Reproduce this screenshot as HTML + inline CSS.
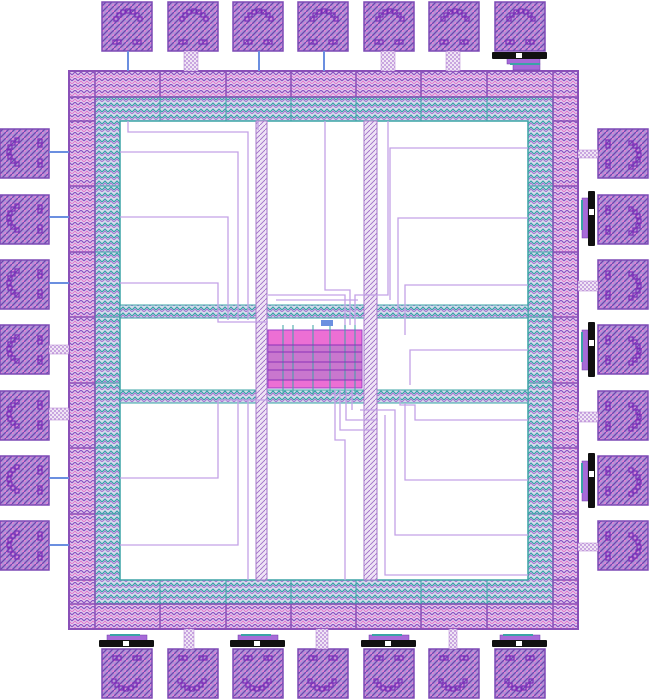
<!DOCTYPE html>
<html><head><style>html,body{margin:0;padding:0;background:#fff}svg{display:block}</style></head>
<body>
<svg width="649" height="699" viewBox="0 0 649 699" xmlns="http://www.w3.org/2000/svg">
<defs>
<pattern id="pad" width="6" height="6" patternUnits="userSpaceOnUse">
<rect width="6" height="6" fill="#ae92d6"/>
<path d="M0 6L6 0" stroke="#7043b0" stroke-width="1.3"/>
<path d="M0 2L2 0M4 6L6 4" stroke="#f07ad4" stroke-width="0.9"/>
</pattern>
<pattern id="ring" width="6" height="6" patternUnits="userSpaceOnUse">
<rect width="6" height="6" fill="#e2cdef"/>
<path d="M0 3L3 0L6 3" stroke="#8a50c0" stroke-width="1.2" fill="none"/>
<path d="M0 6L3 3L6 6" stroke="#e070c8" stroke-width="0.9" fill="none"/>
</pattern>
<pattern id="teal" width="6" height="6" patternUnits="userSpaceOnUse">
<rect width="6" height="6" fill="#d4dcec"/>
<path d="M0 4L3 1L6 4" stroke="#2f9ea4" stroke-width="1.1" fill="none"/>
<path d="M0 6L3 3L6 6" stroke="#a66ad0" stroke-width="0.9" fill="none"/>
</pattern>
<pattern id="vs" width="5" height="5" patternUnits="userSpaceOnUse">
<rect width="5" height="5" fill="#efe4f5"/>
<path d="M0 5L5 0" stroke="#a070c8" stroke-width="0.9"/>
</pattern>
<pattern id="chk" width="4" height="4" patternUnits="userSpaceOnUse">
<rect width="4" height="4" fill="#f0e6f5"/><rect width="2" height="2" fill="#c9a6e0"/><rect x="2" y="2" width="2" height="2" fill="#c9a6e0"/>
</pattern>
<g id="gl" fill="none" stroke="#7a2db8" stroke-width="1.2">
<rect x="12" y="15" width="4" height="4"/><rect x="15" y="11" width="4" height="4"/><rect x="19" y="8" width="4" height="4"/><rect x="24" y="7" width="4" height="4"/><rect x="29" y="8" width="4" height="4"/><rect x="33" y="11" width="4" height="4"/><rect x="36" y="15" width="4" height="4"/>
<rect x="11" y="38" width="4" height="4"/><rect x="15" y="38" width="4" height="4"/><rect x="31" y="38" width="4" height="4"/><rect x="35" y="38" width="4" height="4"/>
</g>
</defs>

<!-- ring -->
<rect x="69" y="71" width="509" height="558" fill="url(#ring)" stroke="#8a50b8" stroke-width="2"/>
<rect x="95" y="97" width="458" height="507" fill="url(#teal)" stroke="#3aa3a6" stroke-width="1.5"/>
<rect x="120" y="121" width="408" height="459" fill="#fff" stroke="#3aa3a6" stroke-width="1.5"/>
<rect x="95" y="97" width="458" height="507" fill="none" stroke="#8a50b8" stroke-width="1"/>
<g stroke="#8a50b8" stroke-width="1.5">
<path d="M95 71V629M553 71V629M69 97H578M69 604H578"/>
<path d="M160 71V97M226 71V97M291 71V97M356 71V97M421 71V97M487 71V97"/>
<path d="M160 604V629M226 604V629M291 604V629M356 604V629M421 604V629M487 604V629"/>
<path d="M69 121H95M69 186H95M69 252H95M69 317H95M69 383H95M69 448H95M69 514H95M69 580H95"/>
<path d="M553 121H578M553 186H578M553 252H578M553 317H578M553 383H578M553 448H578M553 514H578M553 580H578"/>
</g>
<g stroke="#3aa3a6" stroke-width="1">
<path d="M160 97V121M226 97V121M291 97V121M356 97V121M421 97V121M487 97V121"/>
<path d="M160 580V604M226 580V604M291 580V604M356 580V604M421 580V604M487 580V604"/>
<path d="M95 186H120M95 252H120M95 317H120M95 383H120M95 448H120M95 514H120"/>
<path d="M528 186H553M528 252H553M528 317H553M528 383H553M528 448H553M528 514H553"/>
</g>

<!-- inner stripes -->
<rect x="120" y="305" width="408" height="13" fill="url(#teal)" stroke="#3aa3a6"/>
<rect x="120" y="390" width="408" height="13" fill="url(#teal)" stroke="#3aa3a6"/>
<rect x="256" y="121" width="11" height="459" fill="url(#vs)" stroke="#a77acb"/>
<rect x="364" y="121" width="13" height="459" fill="url(#vs)" stroke="#a77acb"/>

<!-- wires -->
<g fill="none" stroke="#c3a2e6" stroke-width="1.3">
<path d="M128 121V132H248V320"/>
<path d="M120 152H238V320"/>
<path d="M120 217H228V320"/>
<path d="M120 283H218V322H268"/>
<path d="M258 121V130"/>
<path d="M325 121V290H350V325"/>
<path d="M388 121V295H355V325"/>
<path d="M528 148H390V300"/>
<path d="M528 218H398V315"/>
<path d="M528 285H405V335"/>
<path d="M528 350H410V385"/>
<path d="M528 420H415V405H400V390"/>
<path d="M528 480H405V403"/>
<path d="M528 535H395V410H360"/>
<path d="M528 575H385V415"/>
<path d="M120 478H218V400H268"/>
<path d="M120 545H238V400"/>
<path d="M248 400V580"/>
<path d="M268 295H345V328"/>
<path d="M340 390V430H375"/>
<path d="M346 390V420H378"/>
<path d="M352 390V410"/>
<path d="M335 390V440H345V580"/>
<path d="M276 300H358"/>
</g>

<!-- center block -->
<rect x="268" y="330" width="94" height="58" fill="#ec6fd4" stroke="#9a3ec8"/>
<rect x="268" y="345" width="94" height="35" fill="#a080c8" opacity="0.45"/>
<g stroke="#3aa3a6" stroke-width="1">
<path d="M283 325V395M293 325V395M313 325V395M330 325V395M345 325V395M355 325V395"/>
</g>
<g stroke="#8a30b8" stroke-width="1">
<path d="M268 345H362M268 352H362M268 362H362M268 370H362M268 380H362"/>
</g>
<rect x="321" y="320" width="12" height="6" fill="#6b8fe0"/>

<!-- pads -->
<g fill="url(#pad)" stroke="#7d4ab5" stroke-width="1.5">
<rect x="102" y="2" width="50" height="49"/><rect x="168" y="2" width="50" height="49"/><rect x="233" y="2" width="50" height="49"/><rect x="298" y="2" width="50" height="49"/><rect x="364" y="2" width="50" height="49"/><rect x="429" y="2" width="50" height="49"/><rect x="495" y="2" width="50" height="49"/>
<rect x="102" y="649" width="50" height="49"/><rect x="168" y="649" width="50" height="49"/><rect x="233" y="649" width="50" height="49"/><rect x="298" y="649" width="50" height="49"/><rect x="364" y="649" width="50" height="49"/><rect x="429" y="649" width="50" height="49"/><rect x="495" y="649" width="50" height="49"/>
<rect x="0" y="129" width="49" height="49"/><rect x="0" y="195" width="49" height="49"/><rect x="0" y="260" width="49" height="49"/><rect x="0" y="325" width="49" height="49"/><rect x="0" y="391" width="49" height="49"/><rect x="0" y="456" width="49" height="49"/><rect x="0" y="521" width="49" height="49"/>
<rect x="598" y="129" width="50" height="49"/><rect x="598" y="195" width="50" height="49"/><rect x="598" y="260" width="50" height="49"/><rect x="598" y="325" width="50" height="49"/><rect x="598" y="391" width="50" height="49"/><rect x="598" y="456" width="50" height="49"/><rect x="598" y="521" width="50" height="49"/>
</g>
<!-- pad glyphs -->
<use href="#gl" x="102" y="2"/><use href="#gl" x="168" y="2"/><use href="#gl" x="233" y="2"/><use href="#gl" x="298" y="2"/><use href="#gl" x="364" y="2"/><use href="#gl" x="429" y="2"/><use href="#gl" x="495" y="2"/>
<use href="#gl" transform="translate(152,698) rotate(180)"/><use href="#gl" transform="translate(218,698) rotate(180)"/><use href="#gl" transform="translate(283,698) rotate(180)"/><use href="#gl" transform="translate(348,698) rotate(180)"/><use href="#gl" transform="translate(414,698) rotate(180)"/><use href="#gl" transform="translate(479,698) rotate(180)"/><use href="#gl" transform="translate(545,698) rotate(180)"/>
<use href="#gl" transform="translate(0,178) rotate(-90)"/><use href="#gl" transform="translate(0,244) rotate(-90)"/><use href="#gl" transform="translate(0,309) rotate(-90)"/><use href="#gl" transform="translate(0,375) rotate(-90)"/><use href="#gl" transform="translate(0,440) rotate(-90)"/><use href="#gl" transform="translate(0,505) rotate(-90)"/><use href="#gl" transform="translate(0,571) rotate(-90)"/>
<use href="#gl" transform="translate(648,129) rotate(90)"/><use href="#gl" transform="translate(648,195) rotate(90)"/><use href="#gl" transform="translate(648,260) rotate(90)"/><use href="#gl" transform="translate(648,325) rotate(90)"/><use href="#gl" transform="translate(648,391) rotate(90)"/><use href="#gl" transform="translate(648,456) rotate(90)"/><use href="#gl" transform="translate(648,521) rotate(90)"/>

<!-- pad connections -->
<g stroke="#6b8fe0" stroke-width="2">
<path d="M128 51V71M259 51V71M324 51V71"/>
<path d="M49 152H69M49 217H69M49 283H69M49 478H69M49 545H69"/>
</g>
<g fill="url(#chk)" stroke="#b07ad0" stroke-width="0.5">
<rect x="184" y="51" width="14" height="20"/><rect x="381" y="51" width="14" height="20"/><rect x="446" y="51" width="14" height="20"/>
<rect x="184" y="629" width="10" height="20"/><rect x="316" y="629" width="12" height="20"/><rect x="449" y="629" width="8" height="20"/>
<rect x="49" y="345" width="20" height="9"/><rect x="49" y="408" width="20" height="12"/>
<rect x="578" y="150" width="20" height="8"/><rect x="578" y="281" width="20" height="10"/><rect x="578" y="412" width="20" height="10"/><rect x="578" y="543" width="20" height="8"/>
</g>
<!-- transistor strips -->
<g fill="#a76ad8" stroke="#6b3aa8" stroke-width="0.5">
<rect x="507" y="58" width="33" height="6"/><rect x="513" y="64" width="27" height="6"/>
<rect x="107" y="635" width="40" height="6"/><rect x="238" y="635" width="40" height="6"/><rect x="369" y="635" width="40" height="6"/><rect x="500" y="635" width="40" height="6"/>
<rect x="582" y="198" width="6" height="40"/><rect x="582" y="330" width="6" height="40"/><rect x="582" y="461" width="6" height="40"/>
</g>
<g fill="#111">
<rect x="492" y="52" width="55" height="7" rx="1"/>
<rect x="99" y="640" width="55" height="7" rx="1"/><rect x="230" y="640" width="55" height="7" rx="1"/><rect x="361" y="640" width="55" height="7" rx="1"/><rect x="492" y="640" width="55" height="7" rx="1"/>
<rect x="588" y="191" width="7" height="55" rx="1"/><rect x="588" y="322" width="7" height="55" rx="1"/><rect x="588" y="453" width="7" height="55" rx="1"/>
</g>
<g fill="#fff">
<rect x="516" y="53" width="6" height="5"/>
<rect x="123" y="641" width="6" height="5"/><rect x="254" y="641" width="6" height="5"/><rect x="385" y="641" width="6" height="5"/><rect x="516" y="641" width="6" height="5"/>
<rect x="589" y="209" width="5" height="6"/><rect x="589" y="340" width="5" height="6"/><rect x="589" y="471" width="5" height="6"/>
</g>
<g fill="#3aa3a6">
<rect x="510" y="63" width="30" height="2"/>
<rect x="110" y="634" width="30" height="2"/><rect x="241" y="634" width="30" height="2"/><rect x="372" y="634" width="30" height="2"/><rect x="503" y="634" width="30" height="2"/>
<rect x="581" y="200" width="2" height="30"/><rect x="581" y="332" width="2" height="30"/><rect x="581" y="463" width="2" height="30"/>
</g>
</svg>
</body></html>
